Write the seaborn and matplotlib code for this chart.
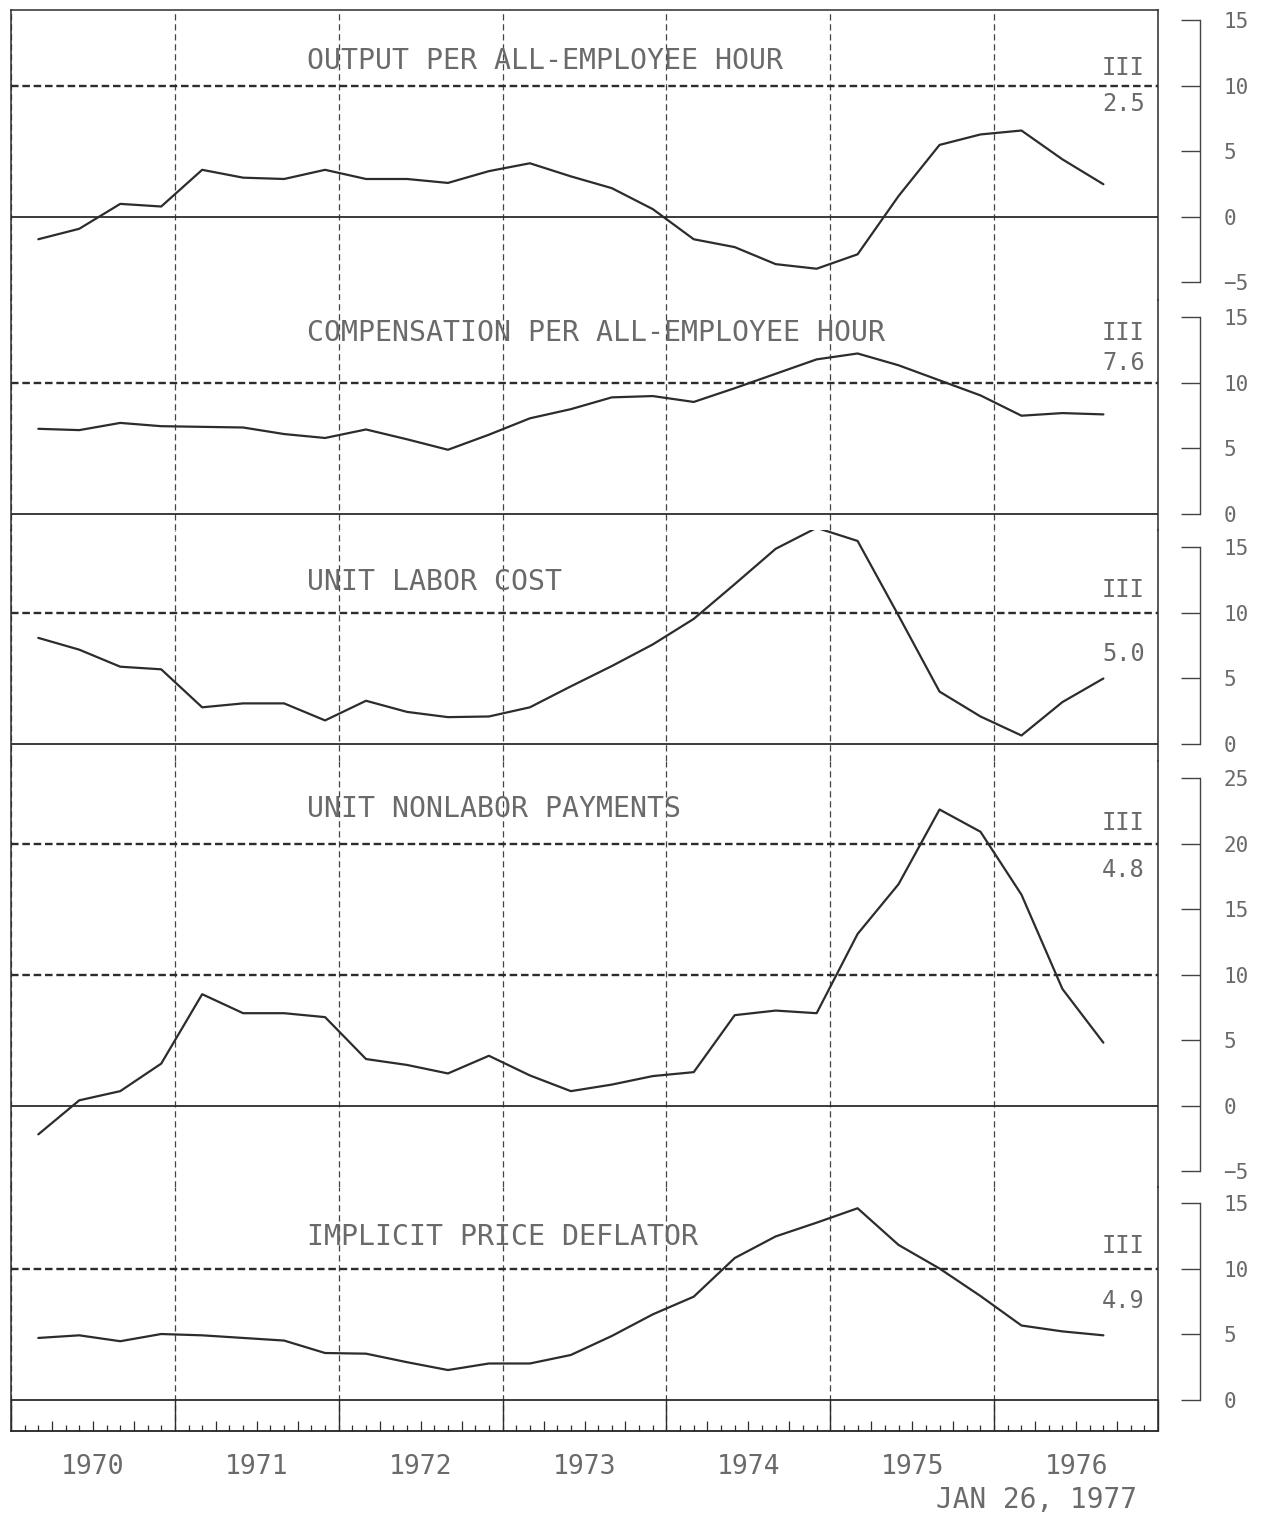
import numpy as np
import pandas as pd
import matplotlib
matplotlib.use("Agg")
import matplotlib.pyplot as plt
import matplotlib.transforms as mtransforms
from matplotlib.ticker import FixedLocator
import seaborn as sns

# ---------------- data (quarterly % change, 1970 I .. 1976 III) ----------------
years = [1970] * 4 + [1971] * 4 + [1972] * 4 + [1973] * 4 + [1974] * 4 + [1975] * 4 + [1976] * 3
quarter_no = [1, 2, 3, 4] * 6 + [1, 2, 3]

output_per_hour = [-1.7, -0.9, 1.0, 0.8, 3.6, 3.0, 2.9, 3.6, 2.9, 2.9, 2.6, 3.5, 4.1, 3.1,
                   2.2, 0.6, -1.7, -2.3, -3.6, -3.95, -2.85, 1.6, 5.5, 6.3, 6.6, 4.4, 2.5]
compensation_per_hour = [6.5, 6.4, 6.95, 6.7, 6.65, 6.6, 6.1, 5.8, 6.45, 5.7, 4.9, 6.05, 7.3,
                         8.0, 8.9, 9.0, 8.55, 9.6, 10.7, 11.8, 12.25, 11.35, 10.2, 9.05, 7.5, 7.7, 7.6]
unit_labor_cost = [8.1, 7.2, 5.9, 5.7, 2.8, 3.1, 3.1, 1.8, 3.3, 2.45, 2.05, 2.1, 2.8, 4.4,
                   5.95, 7.6, 9.55, 12.2, 14.9, 16.5, 15.5, 9.8, 4.0, 2.1, 0.65, 3.2, 5.0]
unit_nonlabor_payments = [-2.2, 0.4, 1.1, 3.2, 8.5, 7.05, 7.05, 6.75, 3.55, 3.1, 2.45, 3.8, 2.3,
                          1.1, 1.6, 2.25, 2.55, 6.9, 7.25, 7.05, 13.1, 16.9, 22.6, 20.9, 16.1, 8.9, 4.8]
implicit_price_deflator = [4.7, 4.9, 4.45, 5.0, 4.9, 4.7, 4.5, 3.55, 3.5, 2.85, 2.25, 2.75, 2.75,
                           3.4, 4.85, 6.5, 7.85, 10.8, 12.45, 13.5, 14.6, 11.8, 10.0, 7.9, 5.65, 5.2, 4.9]

titles = ["OUTPUT PER ALL-EMPLOYEE HOUR", "COMPENSATION PER ALL-EMPLOYEE HOUR",
          "UNIT LABOR COST", "UNIT NONLABOR PAYMENTS", "IMPLICIT PRICE DEFLATOR"]
last_quarter = "III"
last_values = ["2.5", "7.6", "5.0", "4.8", "4.9"]
year_labels = ["1970", "1971", "1972", "1973", "1974", "1975", "1976"]
date_note = "JAN 26, 1977"

series = [output_per_hour, compensation_per_hour, unit_labor_cost,
          unit_nonlabor_payments, implicit_price_deflator]

# ---------------- layout / style ----------------
sns.set_style("white")
plt.rcParams["font.family"] = ["DejaVu Sans Mono", "DejaVu Sans"]

W, H = 1268, 1515
fig = plt.figure(figsize=(W / 100, H / 100), dpi=100)
PX = 13.1                      # pixels per percentage point (same in every panel)
left_px, right_px, top_px = 11, 1158, 10
ylims = [(-6.3, 15.8), (-1.26, 16.37), (-1.3, 16.3), (-6.18, 26.3), (-2.44, 16.26)]
ybounds = [(-5, 15), (0, 15), (0, 15), (-5, 25), (0, 15)]
dashed_levels = [[10], [10], [10], [10, 20], [10]]
title_y = [11.9, 13.8, 12.4, 22.6, 12.4]
iii_y = [11.4, 13.8, 11.75, 21.6, 11.7]
val_y = [8.6, 11.5, 6.9, 18.0, 7.5]

LINE = "#2c2c2c"
GRID = "#444444"
TXT = "#6a6a6a"

t = [y + (3 * q - 1) / 12 for y, q in zip(years, quarter_no)]

cursor = top_px
axes = []
for i, vals in enumerate(series):
    lo, hi = ylims[i]
    h_px = (hi - lo) * PX
    rect = [left_px / W, 1 - (cursor + h_px) / H, (right_px - left_px) / W, h_px / H]
    cursor += h_px
    ax = fig.add_axes(rect)
    axes.append(ax)
    df = pd.DataFrame({"t": t, "v": vals})
    sns.lineplot(data=df, x="t", y="v", ax=ax, color=LINE, lw=1.6, zorder=5)
    ax.set_xlim(1970, 1977)
    ax.set_ylim(lo, hi)
    ax.set_xlabel("")
    ax.set_ylabel("")
    ax.set_yticks([])
    ax.axhline(0, color=LINE, lw=1.3, zorder=3)
    for g in dashed_levels[i]:
        ax.axhline(g, color=LINE, lw=1.7, dashes=(3.2, 1.6), zorder=3)
    ax.set_xticks(range(1970, 1978))
    ax.grid(axis="x", color=GRID, lw=0.9, linestyle=(0, (5, 3)))
    ax.grid(axis="y", visible=False)
    for s in ["left", "right", "top", "bottom"]:
        ax.spines[s].set_color(LINE)
        ax.spines[s].set_linewidth(1.1)
    ax.spines["top"].set_visible(i == 0)
    ax.spines["bottom"].set_visible(i == len(series) - 1)
    ax.set_facecolor("none")

    # right-hand scale
    ax2 = ax.twinx()
    ax2.set_ylim(lo, hi)
    for s in ["left", "top", "bottom"]:
        ax2.spines[s].set_visible(False)
    ax2.spines["right"].set_position(("outward", 30))
    ax2.spines["right"].set_bounds(*ybounds[i])
    ax2.spines["right"].set_color(GRID)
    ax2.spines["right"].set_linewidth(1.0)
    ax2.set_yticks(np.arange(ybounds[i][0], ybounds[i][1] + 1, 5))
    ax2.tick_params(axis="y", direction="in", length=14, width=1.0, pad=17,
                    labelsize=15, labelcolor=TXT, color=GRID)

    # annotations
    trans = mtransforms.blended_transform_factory(ax.transAxes, ax.transData)
    ax.text(0.258, title_y[i], titles[i], transform=trans, fontsize=20.3,
            color=TXT, va="center", ha="left")
    ax.text(0.9885, iii_y[i], last_quarter, transform=trans, fontsize=17,
            color=TXT, va="center", ha="right")
    ax.text(0.9885, val_y[i], last_values[i], transform=trans, fontsize=17,
            color=TXT, va="center", ha="right")

    if i < len(series) - 1:
        ax.tick_params(axis="x", length=0, labelbottom=False)

# bottom time scale
axb = axes[-1]
axb.tick_params(axis="x", which="both", bottom=True, labelbottom=False)
axb.tick_params(axis="x", which="major", direction="in", length=23, width=1.0, color=LINE)
months = [1970 + m / 12 for m in range(1, 84) if m % 3 != 0]
axb.xaxis.set_minor_locator(FixedLocator(months))
axb.tick_params(axis="x", which="minor", direction="in", length=4, width=0.9, color=LINE)

sec = axb.secondary_xaxis("bottom")
qticks = [y + f for y in range(1970, 1977) for f in (0.25, 0.5, 0.75)]
qlabels = [year_labels[k // 3] if k % 3 == 1 else "" for k in range(len(qticks))]
sec.set_xticks(qticks, labels=qlabels)
sec.tick_params(axis="x", bottom=True, direction="in", length=7.5, width=0.9, color=LINE,
                pad=16, labelsize=19, labelcolor=TXT)
sec.spines["bottom"].set_color(LINE)
sec.spines["bottom"].set_linewidth(1.1)

fig.text(1137 / W, 1 - 1500 / H, date_note, fontsize=20, color=TXT, ha="right", va="center")

fig.savefig("out.png", dpi=100, facecolor="white")
